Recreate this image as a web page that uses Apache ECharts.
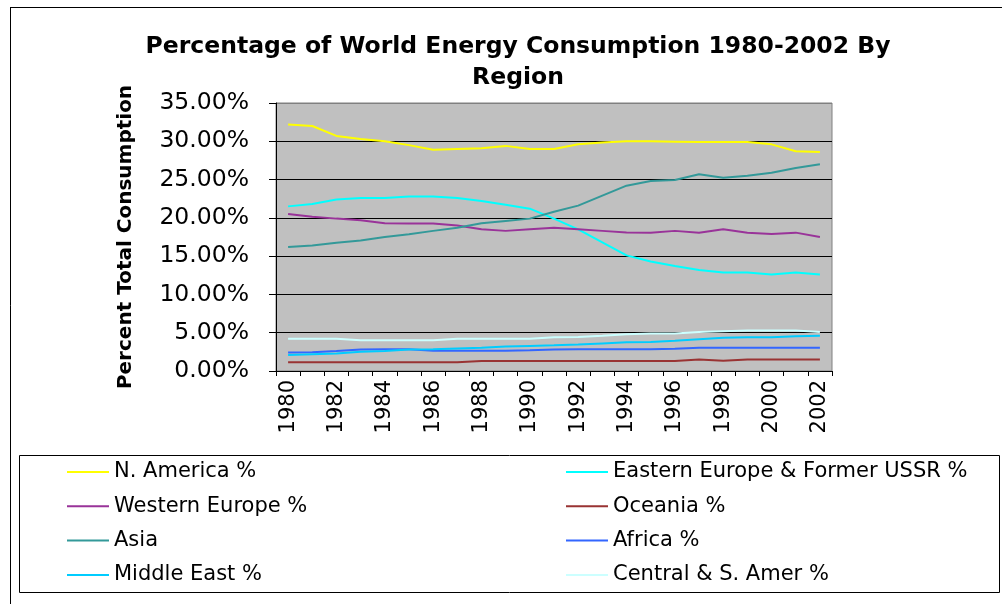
<!DOCTYPE html>
<html>
<head>
<meta charset="utf-8">
<script src="https://cdn.jsdelivr.net/npm/echarts@6/dist/echarts.min.js"></script>
<style>html,body{margin:0;padding:0;background:#fff}#c{width:1002px;height:604px}</style>
</head>
<body>
<div id="c"></div>
<script>
const years = ['1980','1981','1982','1983','1984','1985','1986','1987','1988','1989','1990','1991','1992','1993','1994','1995','1996','1997','1998','1999','2000','2001','2002'];
const nAmerica = [32.2,32.0,30.7,30.3,30.0,29.5,28.9,29.0,29.1,29.4,29.0,29.0,29.6,29.85,30.0,30.0,29.95,29.9,29.9,29.9,29.6,28.7,28.6];
const easternEurope = [21.5,21.8,22.4,22.6,22.6,22.8,22.8,22.6,22.2,21.7,21.2,19.9,18.5,16.8,15.1,14.3,13.7,13.2,12.85,12.85,12.6,12.85,12.6];
const westernEurope = [20.5,20.15,19.9,19.7,19.3,19.25,19.25,19.0,18.5,18.3,18.5,18.7,18.5,18.3,18.1,18.07,18.3,18.07,18.5,18.07,17.9,18.07,17.5];
const oceania = [1.15,1.15,1.15,1.15,1.15,1.15,1.15,1.15,1.3,1.3,1.3,1.3,1.3,1.3,1.3,1.3,1.3,1.5,1.35,1.5,1.5,1.5,1.5];
const asia = [16.2,16.4,16.75,17.05,17.5,17.85,18.3,18.7,19.3,19.6,19.9,20.8,21.6,22.9,24.2,24.8,24.95,25.7,25.25,25.5,25.9,26.5,27.0];
const africa = [2.4,2.45,2.6,2.8,2.85,2.85,2.65,2.65,2.65,2.65,2.7,2.8,2.85,2.85,2.85,2.85,2.9,3.05,3.05,3.05,3.05,3.05,3.05];
const middleEast = [2.1,2.2,2.3,2.5,2.6,2.8,2.85,2.95,3.05,3.2,3.27,3.35,3.45,3.6,3.75,3.8,3.95,4.15,4.35,4.4,4.4,4.55,4.6];
const centralSAmer = [4.2,4.2,4.2,4.0,4.0,4.0,4.0,4.2,4.2,4.2,4.2,4.4,4.45,4.6,4.8,4.9,4.9,5.1,5.2,5.3,5.3,5.3,5.1];
const yTicks = [0,5,10,15,20,25,30,35];

const seriesDefs = [
  ['N. America %', nAmerica, '#ffff00'],
  ['Eastern Europe & Former USSR %', easternEurope, '#00ffff'],
  ['Western Europe %', westernEurope, '#993399'],
  ['Oceania %', oceania, '#993333'],
  ['Asia', asia, '#339999'],
  ['Africa %', africa, '#3366ff'],
  ['Middle East %', middleEast, '#00ccff'],
  ['Central & S. Amer %', centralSAmer, '#ccffff']
];

const font = 'DejaVu Sans';
const chart = echarts.init(document.getElementById('c'), null, {renderer:'canvas'});
const legendCommon = {
  orient: 'vertical', top: 456, itemWidth: 42, itemHeight: 14, itemGap: 12.3,
  icon: 'path://M0,6L42,6L42,8L0,8Z',
  textStyle: {fontFamily: font, fontSize: 21, color: '#000', lineHeight: 22},
  selectedMode: false
};
chart.setOption({
  backgroundColor: '#fff',
  animation: false,
  title: {
    text: 'Percentage of World Energy Consumption 1980-2002 By\nRegion',
    left: 513, textAlign: 'center', top: 26,
    textStyle: {fontFamily: font, fontWeight: 'bold', fontSize: 23.5, color: '#000', lineHeight: 31}
  },
  legend: [
    Object.assign({}, legendCommon, {left: 62, data: ['N. America %','Western Europe %','Asia','Middle East %']}),
    Object.assign({}, legendCommon, {left: 561, data: ['Eastern Europe & Former USSR %','Oceania %','Africa %','Central & S. Amer %']})
  ],
  grid: {left: 276, right: 170, top: 103, bottom: 233, show: true, backgroundColor: '#c0c0c0', borderColor: '#808080', borderWidth: 1},
  xAxis: {
    type: 'category', data: years, boundaryGap: true,
    axisLine: {lineStyle: {color: '#000', width: 1}},
    axisTick: {show: true, length: 5, lineStyle: {color: '#000'}, interval: 0},
    axisLabel: {rotate: 90, interval: 1, margin: 9, fontFamily: font, fontSize: 21, color: '#000'},
    splitLine: {show: false}
  },
  yAxis: {
    type: 'value', min: 0, max: 35, interval: 5,
    name: 'Percent Total Consumption', nameLocation: 'middle', nameGap: 140,
    nameTextStyle: {fontFamily: font, fontWeight: 'bold', fontSize: 20, color: '#000'},
    axisLine: {show: true, lineStyle: {color: '#000'}},
    axisTick: {show: true, length: 7, lineStyle: {color: '#000'}},
    axisLabel: {margin: 27, fontFamily: font, fontSize: 23.5, color: '#000', formatter: v => v.toFixed(2) + '%'},
    splitLine: {show: true, lineStyle: {color: ['#000','#000','#000','#000','#000','#000','#000','#808080'], width: 1}}
  },
  graphic: [
    {type: 'line', shape: {x1: 10.5, y1: 7.5, x2: 10.5, y2: 604}, style: {stroke: '#000', lineWidth: 1}, silent: true},
    {type: 'line', shape: {x1: 10, y1: 7.5, x2: 1002, y2: 7.5}, style: {stroke: '#000', lineWidth: 1}, silent: true},
    {type: 'rect', shape: {x: 19.5, y: 455.5, width: 980, height: 137}, style: {fill: 'none', stroke: '#000', lineWidth: 1}, silent: true}
  ],
  series: seriesDefs.map(([name, data, color]) => ({
    name, type: 'line', data, symbol: 'none', smooth: false,
    lineStyle: {color, width: 2}, itemStyle: {color}
  }))
});
</script>
</body>
</html>
